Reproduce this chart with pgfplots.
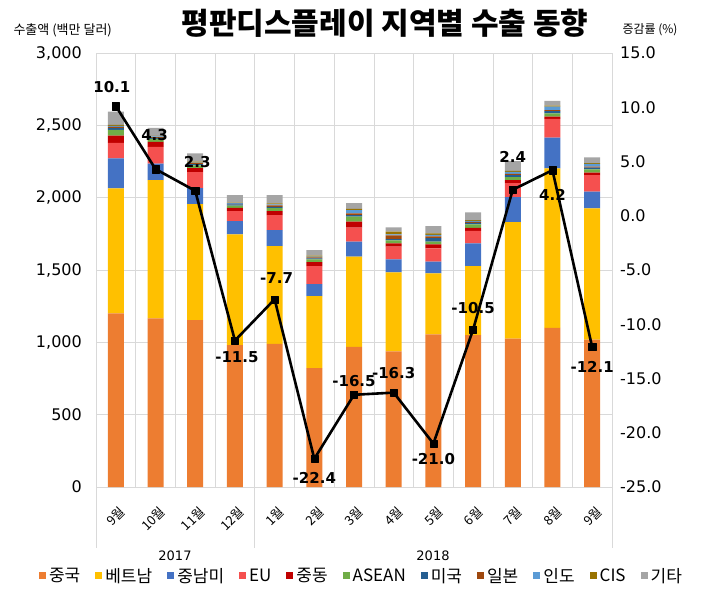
\documentclass[border=0pt]{standalone}
\usepackage{fontspec}
\setmainfont{DejaVu Sans}
\newfontfamily\kr{Noto Sans CJK KR}
\usepackage{pgfplots}
\usepackage{pgfplotstable}
\pgfplotsset{compat=1.18}
\pgfplotsset{/pgf/number format/assume math mode=true}
\definecolor{cCN}{HTML}{ED7D31}
\definecolor{cVN}{HTML}{FFC000}
\definecolor{cLA}{HTML}{4472C4}
\definecolor{cEU}{HTML}{F5504F}
\definecolor{cME}{HTML}{C00000}
\definecolor{cAS}{HTML}{70AD47}
\definecolor{cUS}{HTML}{255E91}
\definecolor{cJP}{HTML}{9E480E}
\definecolor{cIN}{HTML}{5B9BD5}
\definecolor{cCIS}{HTML}{997300}
\definecolor{cETC}{HTML}{A5A5A5}
\definecolor{gridc}{HTML}{D9D9D9}

\pgfplotstableread{
x cn vn la eu me as us jp ind cis etc
0 1200 864 207 108 50 40 12 8 7 8 90
1 1166 955 115 115 35 20 8 5 4 5 55
2 1154 802 110 111 27 20 8 6 5 6 57
3 980 766 92 69 23 15 8 5 4 4 52
4 990 675 111 104 27 20 10 10 6 8 57
5 822 498 83 124 28 18 8 6 6 6 39
6 968 624 104 97 41 35 10 12 23 8 41
7 938 546 90 87 23 20 10 25 8 18 30
8 1055 422 81 92 28 18 25 12 10 10 51
9 1050 477 157 87 21 23 10 8 6 6 53
10 1025 806 173 97 21 20 14 8 15 6 68
11 1100 1103 212 129 16 23 15 8 23 8 32
12 1018 908 115 115 18 21 12 8 18 6 39
}\bars

\pgfplotstableread{
x g xo yo
0 10.1 -4 19
1 4.3 -1 34
2 2.3 2 29
3 -11.5 2 -17
4 -7.7 2 21
5 -22.4 0 -19
6 -16.5 0 14
7 -16.3 0 20
8 -21.0 0 -15
9 -10.5 0 22
10 2.4 0 33
11 4.2 0 -25
12 -12.1 0 -20
}\rate

\pgfplotsset{
  mybar/.style={fill=#1, draw=none,
    legend image code/.code={\fill[fill=#1] (0pt,-3.5pt) rectangle (7pt,3.5pt);}},
}

\begin{document}
\begin{tikzpicture}
\path[use as bounding box] (0,0) rectangle (714pt,-592pt);
\begin{axis}[
  at={(96pt,-487pt)}, anchor=south west,
  width=516pt, height=434pt, scale only axis,
  xmin=-0.5, xmax=12.5, ymin=0, ymax=3000,
  ybar stacked, bar width=16pt,
  xtick={0,...,12},
  xticklabels={9월,10월,11월,12월,1월,2월,3월,4월,5월,6월,7월,8월,9월},
  xticklabel style={font=\kr\fontsize{13}{13}\selectfont, rotate=45, anchor=east, inner sep=0pt, xshift=-11pt, yshift=-21pt},
  minor xtick={-0.5,0.5,...,12.5},
  xminorgrids, minor grid style={gridc, line width=0.7pt},
  ytick={0,500,...,3000},
  ymajorgrids, major grid style={gridc, line width=0.7pt},
  scaled y ticks=false,
  yticklabel style={font=\fontsize{16}{16}\selectfont, anchor=east, inner sep=0pt, xshift=-14pt, /pgf/number format/1000 sep={,}},
  major tick length=0pt, minor tick length=0pt,
  axis line style={draw=gridc, line width=0.7pt},
  clip=false,
  legend columns=11,
  legend style={at={(0.5145,-0.205)}, anchor=center, draw=none, fill=none,
    font=\kr\fontsize{17}{17}\selectfont,
    /tikz/every even column/.append style={column sep=13pt},
    /tikz/every odd column/.append style={column sep=1pt}},
]
\addplot[mybar=cCN] table[x=x,y=cn]{\bars}; \addlegendentry{중국}
\addplot[mybar=cVN] table[x=x,y=vn]{\bars}; \addlegendentry{베트남}
\addplot[mybar=cLA] table[x=x,y=la]{\bars}; \addlegendentry{중남미}
\addplot[mybar=cEU] table[x=x,y=eu]{\bars}; \addlegendentry{EU}
\addplot[mybar=cME] table[x=x,y=me]{\bars}; \addlegendentry{중동}
\addplot[mybar=cAS] table[x=x,y=as]{\bars}; \addlegendentry{ASEAN}
\addplot[mybar=cUS] table[x=x,y=us]{\bars}; \addlegendentry{미국}
\addplot[mybar=cJP] table[x=x,y=jp]{\bars}; \addlegendentry{일본}
\addplot[mybar=cIN] table[x=x,y=ind]{\bars}; \addlegendentry{인도}
\addplot[mybar=cCIS] table[x=x,y=cis]{\bars}; \addlegendentry{CIS}
\addplot[mybar=cETC] table[x=x,y=etc]{\bars}; \addlegendentry{기타}
\end{axis}
\begin{axis}[
  at={(96pt,-487pt)}, anchor=south west,
  width=516pt, height=434pt, scale only axis,
  xmin=-0.5, xmax=12.5, ymin=-25, ymax=15,
  axis x line=none, axis y line*=right,
  axis line style={draw=none},
  ytick={-25,-20,...,15},
  yticklabel style={font=\fontsize{16}{16}\selectfont, anchor=west, inner sep=0pt, xshift=8pt,
    /pgf/number format/.cd, fixed, fixed zerofill, precision=1},
  major tick length=0pt,
  clip=false,
]
\addplot[black, line width=2.6pt, line join=round, mark=square*, mark size=3.6pt,
  mark options={solid, line width=0.4pt, fill=black},
  point meta=y,
  visualization depends on={\thisrow{xo} \as \xo},
  visualization depends on={\thisrow{yo} \as \yo},
  nodes near coords={\pgfmathprintnumber[fixed, fixed zerofill, precision=1]{\pgfplotspointmeta}},
  every node near coord/.append style={anchor=center, inner sep=0pt, xshift=\xo pt, yshift=\yo pt,
    font=\bfseries\fontsize{15}{15}\selectfont, text=black}]
  table[x=x,y=g]{\rate};
\end{axis}
\node[font=\kr\bfseries\fontsize{30}{30}\selectfont] at (385pt,-23pt) {평판디스플레이 지역별 수출 동향};
\node[font=\kr\fontsize{13}{13}\selectfont, anchor=west] at (10pt,-30pt) {수출액 (백만 달러)};
\node[font=\kr\fontsize{12}{12}\selectfont, anchor=west] at (619pt,-30pt) {증감률 (\%)};
\draw[gridc, line width=0.7pt] (96pt,-487pt) -- (96pt,-548pt);
\draw[gridc, line width=0.7pt] (254pt,-487pt) -- (254pt,-548pt);
\draw[gridc, line width=0.7pt] (612pt,-487pt) -- (612pt,-548pt);
\node[font=\fontsize{13}{13}\selectfont] at (175pt,-556pt) {2017};
\node[font=\fontsize{13}{13}\selectfont] at (433pt,-556pt) {2018};
\end{tikzpicture}
\end{document}
